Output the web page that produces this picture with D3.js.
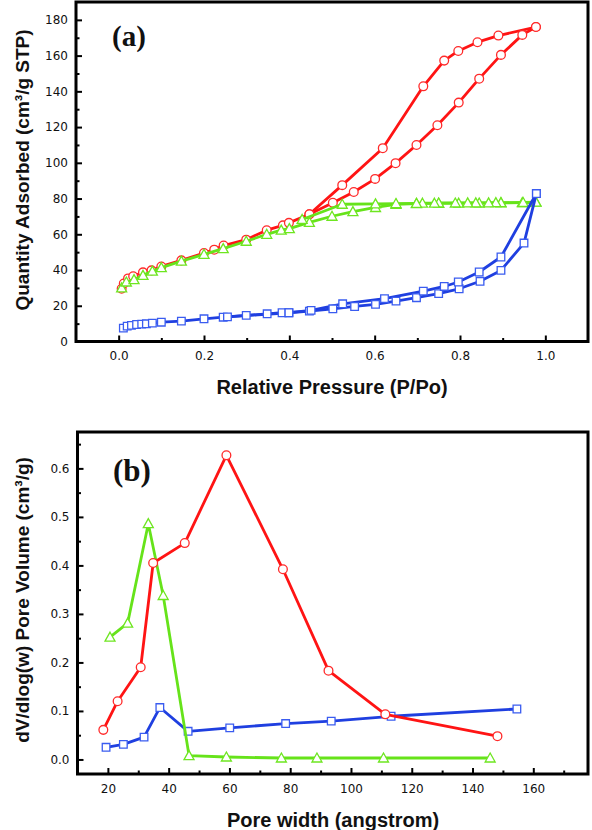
<!DOCTYPE html>
<html>
<head>
<meta charset="utf-8">
<script src="https://cdn.jsdelivr.net/npm/d3@7"></script>
<style>
  html, body { margin: 0; padding: 0; background: #fff; }
  svg { display: block; }
</style>
</head>
<body>
<svg id="chart" width="592" height="830"></svg>
<script>
// ---------- DATA: (a) N2 isotherms ----------
const redAdsP = [0.007,0.012,0.022,0.034,0.057,0.077,0.100,0.147,0.200,0.224,0.246,0.299,0.347,0.385,0.399,0.447,0.502,0.551,0.601,0.649,0.698,0.747,0.797,0.845,0.896,0.946,0.978];
const redAdsQ = [29.5,32.5,35.3,36.5,38.7,39.8,42.0,45.4,49.5,51.4,53.7,57.0,62.3,65.0,66.4,71.2,77.6,83.7,91.0,99.8,110.0,121.0,133.7,147.1,160.4,171.6,176.0];
const redDesP = [0.978,0.890,0.841,0.796,0.763,0.714,0.619,0.524,0.447];
const redDesQ = [176.0,171.2,167.5,162.6,157.2,142.8,108.2,87.5,71.2];

const greenAdsP = [0.007,0.018,0.036,0.057,0.079,0.100,0.147,0.200,0.245,0.299,0.347,0.381,0.400,0.447,0.500,0.549,0.602,0.650,0.698,0.750,0.797,0.845,0.896,0.946,0.978];
const greenAdsQ = [30.0,33.3,34.6,37.0,39.4,41.3,45.0,48.8,52.0,56.1,60.0,62.3,63.2,66.7,70.1,72.7,75.0,76.8,77.2,77.3,77.4,77.5,77.6,77.7,78.0];
const greenDesP = [0.978,0.948,0.896,0.884,0.867,0.837,0.818,0.789,0.750,0.740,0.712,0.698,0.650,0.602,0.524,0.430];
const greenDesQ = [78.0,77.8,77.7,77.7,77.6,77.6,77.6,77.5,77.5,77.4,77.4,77.3,77.2,77.0,76.8,68.3];

const blueAdsP = [0.011,0.020,0.030,0.042,0.054,0.065,0.079,0.100,0.147,0.200,0.245,0.299,0.348,0.383,0.399,0.447,0.502,0.553,0.602,0.650,0.698,0.750,0.798,0.847,0.896,0.950,0.979];
const blueAdsQ = [7.5,8.6,9.0,9.5,9.7,9.9,10.3,10.8,11.4,12.7,13.6,14.6,15.5,16.1,16.1,17.0,18.3,19.6,20.8,22.6,24.5,26.8,29.5,33.7,39.8,55.1,82.8];
const blueDesP = [0.979,0.896,0.845,0.796,0.763,0.714,0.623,0.525,0.451,0.399,0.255];
const blueDesQ = [82.8,47.3,38.9,33.3,30.8,28.2,24.0,21.1,17.4,16.1,13.8];

// ---------- DATA: (b) pore size distribution ----------
const redW = [18.5,23.2,30.8,34.9,45.3,59.0,77.6,92.6,111.3,148.2];
const redV = [0.061,0.120,0.190,0.405,0.446,0.627,0.392,0.183,0.093,0.048];
const greenW = [20.7,26.5,33.3,38.2,46.7,59.0,77.1,88.8,110.7,145.8];
const greenV = [0.252,0.281,0.486,0.338,0.008,0.005,0.003,0.003,0.003,0.003];
const blueW = [19.4,25.1,31.9,37.1,46.4,60.1,78.5,93.5,113.2,154.6];
const blueV = [0.025,0.031,0.046,0.107,0.058,0.065,0.074,0.079,0.089,0.104];

// ---------- TICKS / LABELS ----------
const aXTicks = [0.0,0.2,0.4,0.6,0.8,1.0];
const aXMinor = [-0.1,0.1,0.3,0.5,0.7,0.9,1.1];
const aYTicks = [0,20,40,60,80,100,120,140,160,180];
const aYMinor = [10,30,50,70,90,110,130,150,170];
const bXTicks = [20,40,60,80,100,120,140,160];
const bXMinor = [10,30,50,70,90,110,130,150,170];
const bYTicks = [0.0,0.1,0.2,0.3,0.4,0.5,0.6];
const bYMinor = [0.05,0.15,0.25,0.35,0.45,0.55,0.65];

const aXTitle = "Relative Pressure (P/Po)";
const aYTitle = "Quantity Adsorbed (cm³/g STP)";
const bXTitle = "Pore width (angstrom)";
const bYTitle = "dV/dlog(w) Pore Volume (cm³/g)";

const RED = "#ff1414", GREEN = "#66e31a", BLUE = "#1f3fe0";
const RED_M = "#ff2a2a", GREEN_M = "#6ee620", BLUE_M = "#3a5cf0";

const svg = d3.select("#chart");

function zip(xs, ys) { return xs.map((x, i) => [x, ys[i]]); }

function drawPanel(opt) {
  const g = svg.append("g");
  const x = d3.scaleLinear().domain(opt.xDom).range(opt.xRange);
  const y = d3.scaleLinear().domain(opt.yDom).range(opt.yRange);
  const left = opt.xRange[0], right = opt.xRange[1];
  const top = opt.yRange[1], bottom = opt.yRange[0];

  // axes (ticks inward)
  const tickFont = "DejaVu Sans, Verdana, sans-serif";
  const xa = g.append("g").attr("transform", `translate(0,${bottom})`)
    .call(d3.axisBottom(x).tickValues(opt.xTicks).tickFormat(opt.xFmt).tickSize(-6).tickPadding(10));
  g.append("g").attr("transform", `translate(0,${bottom})`)
    .call(d3.axisBottom(x).tickValues(opt.xMinor.filter(v => x(v) > left + 2 && x(v) < right - 2)).tickFormat("").tickSize(-3.5));
  const ya = g.append("g").attr("transform", `translate(${left},0)`)
    .call(d3.axisLeft(y).tickValues(opt.yTicks).tickFormat(opt.yFmt).tickSize(-6).tickPadding(8));
  g.append("g").attr("transform", `translate(${left},0)`)
    .call(d3.axisLeft(y).tickValues(opt.yMinor.filter(v => y(v) > top + 2 && y(v) < bottom - 2)).tickFormat("").tickSize(-3.5));
  g.selectAll(".domain").remove();
  g.selectAll(".tick line").attr("stroke", "#000").attr("stroke-width", 2);
  g.selectAll(".tick text").attr("font-family", tickFont).attr("font-size", 12).attr("fill", "#111");

  // frame
  g.append("rect").attr("x", left).attr("y", top)
    .attr("width", right - left).attr("height", bottom - top)
    .attr("fill", "none").attr("stroke", "#000").attr("stroke-width", 3);

  // series
  const line = d3.line().x(d => x(d[0])).y(d => y(d[1]));
  opt.series.forEach(s => {
    s.branches.forEach(b => {
      g.append("path").datum(b).attr("d", line)
        .attr("fill", "none").attr("stroke", s.color).attr("stroke-width", 2.8)
        .attr("stroke-linejoin", "round");
    });
    s.branches.forEach(b => {
      const m = g.append("g").selectAll("path").data(b).join("path")
        .attr("transform", d => `translate(${x(d[0])},${y(d[1])})`)
        .attr("fill", "#fff").attr("stroke", s.mcolor).attr("stroke-width", 1.3);
      if (s.shape === "circle") m.attr("d", d3.symbol(d3.symbolCircle, 60)());
      else if (s.shape === "square") m.attr("d", "M-3.8,-3.8H3.8V3.8H-3.8Z");
      else m.attr("d", "M0,-5L5,4H-5Z");
    });
  });

  // titles
  g.append("text").attr("x", opt.xTitlePos[0]).attr("y", opt.xTitlePos[1])
    .attr("text-anchor", "middle").attr("font-family", "Liberation Sans, Arial, sans-serif")
    .attr("font-weight", "bold").attr("font-size", 20).attr("fill", "#111").text(opt.xTitle);
  g.append("text").attr("transform", `translate(${opt.yTitlePos[0]},${opt.yTitlePos[1]}) rotate(-90)`)
    .attr("text-anchor", "middle").attr("font-family", "Liberation Sans, Arial, sans-serif")
    .attr("font-weight", "bold").attr("font-size", 19).attr("fill", "#111").text(opt.yTitle);
  g.append("text").attr("x", opt.tagPos[0]).attr("y", opt.tagPos[1])
    .attr("font-family", "Liberation Serif, Times New Roman, serif")
    .attr("font-weight", "bold").attr("font-size", opt.tagSize).attr("fill", "#111").text(opt.tag);
}

drawPanel({
  xDom: [-0.1, 1.1], xRange: [76, 588],
  yDom: [0, 190], yRange: [341.5, 2],
  xTicks: aXTicks, xMinor: aXMinor, yTicks: aYTicks, yMinor: aYMinor,
  xFmt: d3.format(".1f"), yFmt: d3.format("d"),
  series: [
    { color: RED, mcolor: RED_M, shape: "circle", branches: [zip(redAdsP, redAdsQ), zip(redDesP, redDesQ)] },
    { color: GREEN, mcolor: GREEN_M, shape: "triangle", branches: [zip(greenAdsP, greenAdsQ), zip(greenDesP, greenDesQ)] },
    { color: BLUE, mcolor: BLUE_M, shape: "square", branches: [zip(blueAdsP, blueAdsQ), zip(blueDesP, blueDesQ)] }
  ],
  xTitle: aXTitle, yTitle: aYTitle,
  xTitlePos: [332, 394], yTitlePos: [29, 170],
  tag: "(a)", tagPos: [112, 46], tagSize: 29
});

drawPanel({
  xDom: [10, 178], xRange: [77.5, 588],
  yDom: [-0.03, 0.675], yRange: [774, 432],
  xTicks: bXTicks, xMinor: bXMinor, yTicks: bYTicks, yMinor: bYMinor,
  xFmt: d3.format("d"), yFmt: d3.format(".1f"),
  series: [
    { color: BLUE, mcolor: BLUE_M, shape: "square", branches: [zip(blueW, blueV)] },
    { color: GREEN, mcolor: GREEN_M, shape: "triangle", branches: [zip(greenW, greenV)] },
    { color: RED, mcolor: RED_M, shape: "circle", branches: [zip(redW, redV)] }
  ],
  xTitle: bXTitle, yTitle: bYTitle,
  xTitlePos: [333, 827], yTitlePos: [29, 600],
  tag: "(b)", tagPos: [113, 481], tagSize: 31
});
</script>
</body>
</html>
